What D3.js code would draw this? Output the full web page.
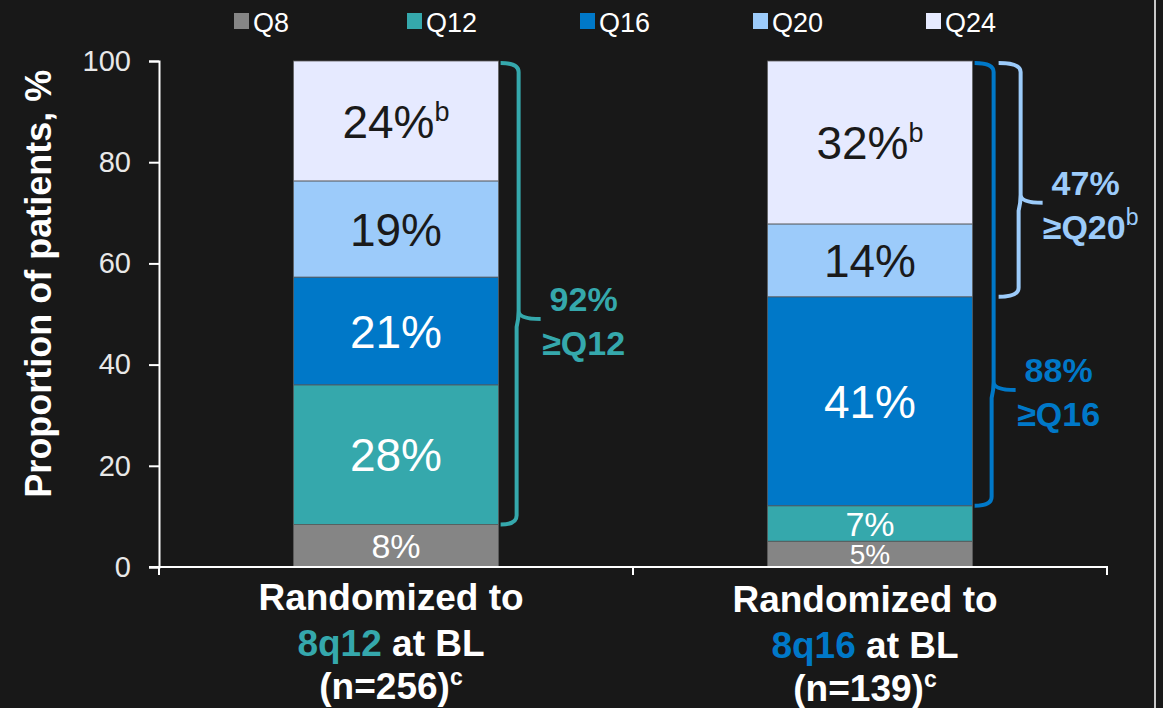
<!DOCTYPE html>
<html>
<head>
<meta charset="utf-8">
<script src="https://cdn.jsdelivr.net/npm/d3@7"></script>
<style>
  body { margin: 0; background: #181818; }
  svg { display: block; font-family: "Liberation Sans", Arial, sans-serif; }
</style>
</head>
<body>
<div id="chart"></div>
<script>
    // series (stack order bottom -> top)
    var series = ["Q8", "Q12", "Q16", "Q20", "Q24"];
    var colors = ["#858585", "#35a8ac", "#0078c8", "#9ccbfa", "#e6eaff"];
    var categories = ["8q12", "8q16"];
    var catNs = ["256", "139"];
    // proportion of patients, %
    var arm8q12 = [8.4, 27.6, 21.3, 19.0, 23.7];
    var arm8q16 = [5.1, 7.0, 41.3, 14.4, 32.2];
    var segLabels8q12 = ["8%", "28%", "21%", "19%", "24%"];
    var segLabels8q16 = ["5%", "7%", "41%", "14%", "32%"];
    var yTicks = [0, 20, 40, 60, 80, 100];

    var width = 1163, height = 708;
    var svg = d3.select("#chart").append("svg")
        .attr("width", width)
        .attr("height", height);

    svg.append("rect").attr("width", width).attr("height", height).attr("fill", "#181818");

    var x = d3.scaleBand().domain(categories).range([159, 1107]);
    var y = d3.scaleLinear().domain([0, 100]).range([567, 61]);
    var barW = x.bandwidth() * 0.433;

    var rows = categories.map(function (c, i) {
        var vals = i === 0 ? arm8q12 : arm8q16;
        var labs = i === 0 ? segLabels8q12 : segLabels8q16;
        var row = { cat: c };
        series.forEach(function (s, j) { row[s] = vals[j]; row[s + "_lab"] = labs[j]; });
        return row;
    });

    var stacked = d3.stack().keys(series)(rows);

    svg.append("clipPath").attr("id", "plot")
        .append("rect").attr("x", 0).attr("y", 0).attr("width", width).attr("height", y(0));

    var g = svg.append("g");
    stacked.forEach(function (layer, li) {
        g.selectAll(null).data(layer).enter().append("rect")
            .attr("x", function (d) { return x(d.data.cat) + (x.bandwidth() - barW) / 2; })
            .attr("width", barW)
            .attr("y", function (d) { return y(d[1]); })
            .attr("height", function (d) { return y(d[0]) - y(d[1]); })
            .attr("fill", colors[li])
            .attr("stroke", "#5a5a5a")
            .attr("stroke-width", 0.8);
    });

    // segment labels
    var labG = svg.append("g").attr("clip-path", "url(#plot)");
    stacked.forEach(function (layer, li) {
        var dark = li >= 3;
        layer.forEach(function (d) {
            var h = y(d[0]) - y(d[1]);
            var size = h < 30 ? 28 : (h < 45 ? 34 : 46);
            var t = labG.append("text")
                .attr("x", x(d.data.cat) + x.bandwidth() / 2)
                .attr("y", (y(d[0]) + y(d[1])) / 2 + size * 0.36)
                .attr("text-anchor", "middle")
                .attr("fill", dark ? "#1a1a1a" : "#ffffff")
                .style("font-size", size + "px")
                .text(d.data[series[li] + "_lab"]);
            if (li === 4) {
                t.append("tspan").attr("dy", -17).style("font-size", "27px").text("b");
            }
        });
    });

    // y axis
    var yAxis = svg.append("g")
        .attr("transform", "translate(159,0)")
        .call(d3.axisLeft(y).tickValues(yTicks).tickSize(10).tickPadding(18));
    yAxis.select(".domain").attr("stroke", "#ffffff").attr("stroke-width", 2);
    yAxis.selectAll(".tick line").attr("stroke", "#ffffff").attr("stroke-width", 2);
    yAxis.selectAll(".tick text").attr("fill", "#e8e8e8")
        .style("font-size", "29px").style("font-family", "Liberation Sans, Arial, sans-serif");

    // x axis with ticks between categories
    var xEdges = [x(categories[0]), x(categories[1]), x(categories[1]) + x.bandwidth()];
    svg.append("line").attr("x1", 149).attr("x2", xEdges[2] + 1)
        .attr("y1", y(0)).attr("y2", y(0)).attr("stroke", "#ffffff").attr("stroke-width", 2);
    svg.selectAll(null).data(xEdges).enter().append("line")
        .attr("x1", function (d) { return d; }).attr("x2", function (d) { return d; })
        .attr("y1", y(0)).attr("y2", y(0) + 8)
        .attr("stroke", "#ffffff").attr("stroke-width", 2);

    // y title
    svg.append("text")
        .attr("transform", "translate(51," + y(56) + ") rotate(-90)")
        .attr("text-anchor", "middle")
        .attr("fill", "#ffffff")
        .style("font-size", "36px").style("font-weight", "bold")
        .text("Proportion of patients, %");

    // category labels
    var catColors = [colors[1], colors[2]];
    categories.forEach(function (c, i) {
        var cx = x(c) + x.bandwidth() / 2 - 5;
        var t = svg.append("g").style("font-size", "37px").style("font-weight", "bold")
            .attr("text-anchor", "middle").attr("fill", "#ffffff");
        var by = y(0) + 43 + i * 2;
        t.append("text").attr("x", cx).attr("y", by).text("Randomized to");
        var l2 = t.append("text").attr("x", cx).attr("y", by + 46);
        l2.append("tspan").attr("fill", catColors[i]).text(c);
        l2.append("tspan").text(" at BL");
        var l3 = t.append("text").attr("x", cx).attr("y", by + 89);
        l3.append("tspan").text("(n=" + catNs[i] + ")");
        l3.append("tspan").attr("dy", -14).style("font-size", "23px").text("c");
    });

    // brackets
    var brackets = [
        { cat: "8q12", from: "Q12", pct: "92%", label: "≥Q12", sup: "", color: colors[1], tip: 49, off: 20 },
        { cat: "8q16", from: "Q16", pct: "88%", label: "≥Q16", sup: "", color: colors[2], tip: 35, off: 21 },
        { cat: "8q16", from: "Q20", pct: "47%", label: "≥Q20", sup: "b", color: colors[3], tip: 72, off: 48 }
    ];
    brackets.forEach(function (b) {
        var ci = categories.indexOf(b.cat);
        var si = series.indexOf(b.from);
        var lo = stacked[si][ci][0];
        var right = x(b.cat) + (x.bandwidth() + barW) / 2;
        var x0 = right + 2 + (b.off > 30 ? 24 : 0);
        var xl = right + b.off;
        var xt = xl + 22;
        var yT = y(100) + 2, yB = y(lo), yM = y(b.tip);
        var p = "M" + x0 + "," + yT + " Q" + xl + "," + yT + " " + xl + "," + (yT + 9) +
            " L" + xl + "," + (yM - 8) + " Q" + xl + "," + yM + " " + xt + "," + yM +
            " M" + xl + "," + (yM - 8) + " Q" + xl + "," + yM + " " + (xl - 2) + "," + (yM + 8) +
            " L" + (xl - 2) + "," + (yB - 9) + " Q" + (xl - 2) + "," + yB + " " + x0 + "," + yB;
        svg.append("path").attr("d", p).attr("fill", "none")
            .attr("stroke", b.color).attr("stroke-width", 4);
        var lx = xt + 43;
        var lt = svg.append("g").attr("fill", b.color).style("font-weight", "bold")
            .style("font-size", "34px").attr("text-anchor", "middle");
        lt.append("text").attr("x", lx).attr("y", yM - 8).text(b.pct);
        var l2 = lt.append("text").attr("x", lx + (b.sup ? 5 : 0)).attr("y", yM + 36);
        l2.append("tspan").text(b.label);
        if (b.sup) l2.append("tspan").attr("dy", -14).style("font-size", "23px")
            .style("font-weight", "normal").text(b.sup);
    });

    // legend
    var lx = d3.scalePoint().domain(series).range([234, 926]);
    var leg = svg.append("g").selectAll("g").data(series).enter().append("g")
        .attr("transform", function (d) { return "translate(" + lx(d) + ",0)"; });
    leg.append("rect").attr("x", 0).attr("y", 13).attr("width", 15).attr("height", 16)
        .attr("fill", function (d, i) { return colors[i]; });
    leg.append("text").attr("x", 19).attr("y", 32).attr("fill", "#ffffff")
        .style("font-size", "27px").text(function (d) { return d; });

    // right border line
    svg.append("line").attr("x1", 1155).attr("x2", 1155).attr("y1", 0).attr("y2", height)
        .attr("stroke", "#c8c8c8").attr("stroke-width", 2);
</script>
</body>
</html>
